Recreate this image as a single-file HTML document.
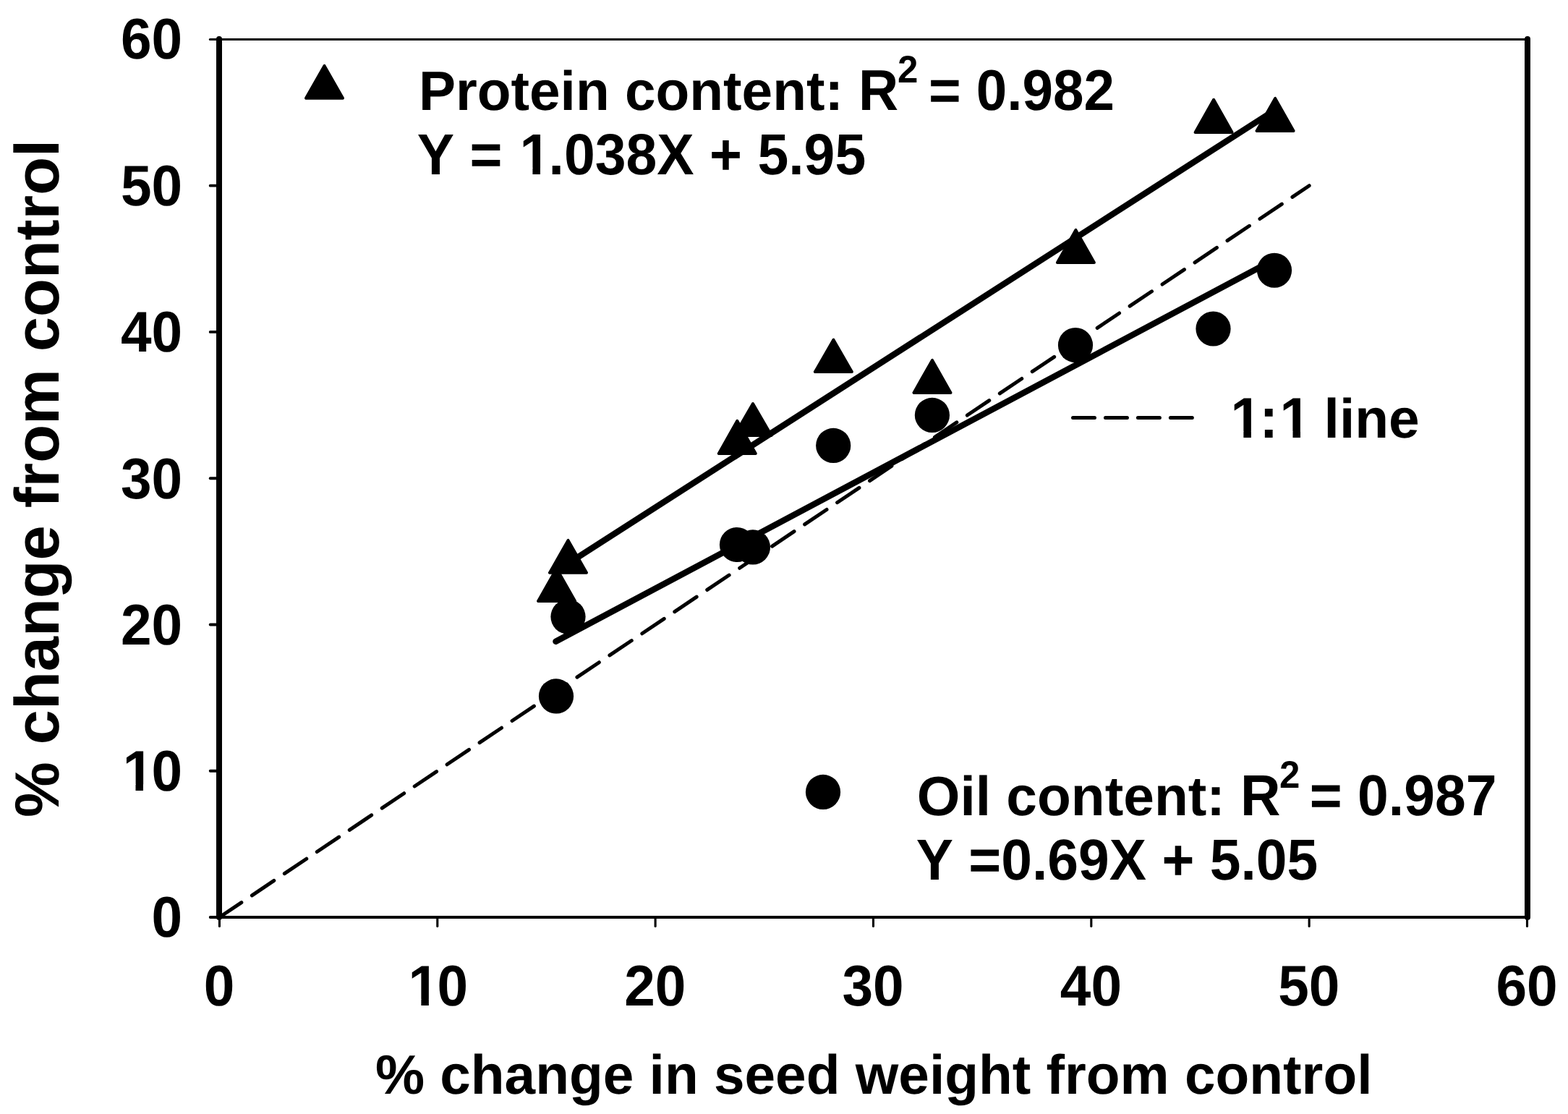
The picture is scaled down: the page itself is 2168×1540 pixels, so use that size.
<!DOCTYPE html>
<html lang="en"><head><meta charset="utf-8"><title>% change in seed weight from control</title>
<style>
html,body{margin:0;padding:0;background:#fff;}
body{width:2168px;height:1540px;overflow:hidden;}
svg{display:block;}
text{font-family:"Liberation Sans",sans-serif;font-weight:bold;fill:#000;font-kerning:none;text-rendering:geometricPrecision;}
</style></head><body>
<svg xmlns="http://www.w3.org/2000/svg" width="2168" height="1540" viewBox="0 0 2168 1540">
<defs><clipPath id="c1"><rect x="146.94" y="997.77" width="125.20" height="86.38"/><rect x="146.94" y="1083.15" width="26.02" height="30.64"/><rect x="187.51" y="1083.15" width="10.51" height="9.85"/><rect x="211.60" y="1083.15" width="60.54" height="30.64"/></clipPath><clipPath id="c2"><rect x="541.79" y="1294.77" width="125.20" height="86.38"/><rect x="541.79" y="1380.15" width="26.02" height="30.64"/><rect x="582.36" y="1380.15" width="10.51" height="9.85"/><rect x="606.45" y="1380.15" width="60.54" height="30.64"/></clipPath><clipPath id="c3"><rect x="556.68" y="144.94" width="660.56" height="87.14"/><rect x="556.68" y="231.08" width="165.12" height="30.79"/><rect x="736.42" y="231.08" width="10.56" height="9.92"/><rect x="760.62" y="231.08" width="456.62" height="30.79"/></clipPath><clipPath id="c4"><rect x="1678.81" y="509.77" width="150.71" height="86.38"/><rect x="1678.81" y="595.15" width="26.02" height="30.64"/><rect x="1719.38" y="595.15" width="10.51" height="9.85"/><rect x="1743.47" y="595.15" width="29.47" height="30.64"/><rect x="1787.49" y="595.15" width="10.51" height="9.85"/><rect x="1811.58" y="595.15" width="17.94" height="30.64"/></clipPath></defs>
<rect x="0" y="0" width="2168" height="1540" fill="#fff"/>
<line x1="303.45" y1="1268.00" x2="1810.16" y2="256.71" stroke="#000" stroke-width="5" stroke-linecap="round" stroke-dasharray="36.6 17.54"/>
<line x1="768.5" y1="886.72" x2="1762" y2="358.78" stroke="#000" stroke-width="8.5" stroke-linecap="round"/>
<line x1="770" y1="788.88" x2="1763" y2="151.97" stroke="#000" stroke-width="8.5" stroke-linecap="round"/>
<g stroke="#000" fill="none" stroke-linecap="round">
<line x1="303" y1="54" x2="303" y2="1268" stroke-width="8"/>
<line x1="2112" y1="54" x2="2112" y2="1268" stroke-width="8"/>
<line x1="303" y1="54.4" x2="2112" y2="54.4" stroke-width="3"/>
<line x1="303" y1="1268" x2="2112" y2="1268" stroke-width="4"/>
<line x1="290.70" y1="1268.00" x2="303" y2="1268.00" stroke-width="3.8"/>
<line x1="303.45" y1="1268" x2="303.45" y2="1280.45" stroke-width="3.1"/>
<line x1="290.70" y1="1065.74" x2="303" y2="1065.74" stroke-width="3.8"/>
<line x1="604.79" y1="1268" x2="604.79" y2="1280.45" stroke-width="3.1"/>
<line x1="290.70" y1="863.48" x2="303" y2="863.48" stroke-width="3.8"/>
<line x1="906.13" y1="1268" x2="906.13" y2="1280.45" stroke-width="3.1"/>
<line x1="290.70" y1="661.23" x2="303" y2="661.23" stroke-width="3.8"/>
<line x1="1207.47" y1="1268" x2="1207.47" y2="1280.45" stroke-width="3.1"/>
<line x1="290.70" y1="458.97" x2="303" y2="458.97" stroke-width="3.8"/>
<line x1="1508.82" y1="1268" x2="1508.82" y2="1280.45" stroke-width="3.1"/>
<line x1="290.70" y1="256.71" x2="303" y2="256.71" stroke-width="3.8"/>
<line x1="1810.16" y1="1268" x2="1810.16" y2="1280.45" stroke-width="3.1"/>
<line x1="290.30" y1="54.45" x2="303" y2="54.45" stroke-width="3.0"/>
<line x1="2111.50" y1="1268" x2="2111.50" y2="1280.45" stroke-width="3.1"/>
</g>
<g fill="#000">
<circle cx="769.00" cy="962.40" r="24.10"/>
<circle cx="785.50" cy="852.60" r="24.10"/>
<circle cx="1019.00" cy="753.00" r="24.10"/>
<circle cx="1040.90" cy="756.40" r="24.10"/>
<circle cx="1152.20" cy="615.90" r="24.10"/>
<circle cx="1288.90" cy="573.90" r="24.10"/>
<circle cx="1487.00" cy="477.10" r="24.10"/>
<circle cx="1677.50" cy="454.50" r="24.10"/>
<circle cx="1762.00" cy="373.75" r="24.10"/>
<circle cx="1138.0" cy="1094.9" r="24.10"/>
</g>
<g fill="#000" stroke="#000" stroke-width="4.0" stroke-linejoin="round">
<polygon points="769.60,786.00 744.10,830.90 795.10,830.90"/>
<polygon points="785.50,746.90 760.00,791.80 811.00,791.80"/>
<polygon points="1019.30,581.80 993.80,627.00 1044.80,627.00"/>
<polygon points="1041.00,558.00 1015.50,602.00 1066.50,602.00"/>
<polygon points="1152.40,469.70 1126.90,514.10 1177.90,514.10"/>
<polygon points="1289.00,497.90 1263.50,542.90 1314.50,542.90"/>
<polygon points="1487.40,317.90 1461.90,363.00 1512.90,363.00"/>
<polygon points="1678.10,137.80 1652.60,182.90 1703.60,182.90"/>
<polygon points="1763.10,135.95 1737.60,181.00 1788.60,181.00"/>
<polygon points="448.50,90.90 423.00,135.70 474.00,135.70"/>
</g>
<line x1="1483.5" y1="577.5" x2="1648.6" y2="577.5" stroke="#000" stroke-width="5" stroke-linecap="round" stroke-dasharray="30 14.95"/>
<text transform="translate(209.54,1295.00) scale(1,1.0360)" font-size="76.60" xml:space="preserve">0</text>
<text transform="translate(281.75,1390.00) scale(1,1.0360)" font-size="76.60" xml:space="preserve">0</text>
<g clip-path="url(#c1)"><text transform="translate(166.94,1093.00) scale(1,1.0360)" font-size="76.60" dx="2.69 -2.69" xml:space="preserve">10</text></g>
<g clip-path="url(#c2)"><text transform="translate(561.79,1390.00) scale(1,1.0360)" font-size="76.60" dx="2.69 -2.69" xml:space="preserve">10</text></g>
<text transform="translate(166.94,891.00) scale(1,1.0360)" font-size="76.60" xml:space="preserve">20</text>
<text transform="translate(863.13,1390.00) scale(1,1.0360)" font-size="76.60" xml:space="preserve">20</text>
<text transform="translate(166.94,689.00) scale(1,1.0360)" font-size="76.60" xml:space="preserve">30</text>
<text transform="translate(1164.47,1390.00) scale(1,1.0360)" font-size="76.60" xml:space="preserve">30</text>
<text transform="translate(166.94,486.00) scale(1,1.0360)" font-size="76.60" xml:space="preserve">40</text>
<text transform="translate(1465.82,1390.00) scale(1,1.0360)" font-size="76.60" xml:space="preserve">40</text>
<text transform="translate(166.94,284.00) scale(1,1.0360)" font-size="76.60" xml:space="preserve">50</text>
<text transform="translate(1767.16,1390.00) scale(1,1.0360)" font-size="76.60" xml:space="preserve">50</text>
<text transform="translate(166.94,81.00) scale(1,1.0360)" font-size="76.60" xml:space="preserve">60</text>
<text transform="translate(2068.50,1390.00) scale(1,1.0360)" font-size="76.60" xml:space="preserve">60</text>
<text x="518.89" y="1512" font-size="76.59">% change in seed weight from control</text>
<text transform="translate(81,1130.10) rotate(-90)" font-size="86.50">% change from control</text>
<text x="578.88" y="152.00" font-size="76.58">Protein content:</text>
<text transform="translate(1187.07,152.00) scale(1,1.0400)" font-size="76.45" dx="0 -1.15 -6.81" dy="0 -36.63 36.63" xml:space="preserve">R<tspan font-size="51">2</tspan> = 0.982</text>
<text x="1267.75" y="1127.00" font-size="76.71">Oil content:</text>
<text transform="translate(1714.95,1127.00) scale(1,1.0400)" font-size="76.89" dx="0 -1.45 -7.95" dy="0 -36.63 36.63" xml:space="preserve">R<tspan font-size="51">2</tspan> = 0.987</text>
<g clip-path="url(#c3)"><text transform="translate(576.68,241.00) scale(1,1.0400)" font-size="76.97" dx="0 0 0 0 2.71 -2.71" xml:space="preserve">Y = 1.038X + 5.95</text></g>
<text transform="translate(1266.69,1216.00) scale(1,1.0400)" font-size="76.86" xml:space="preserve">Y =0.69X + 5.05</text>
<g clip-path="url(#c4)"><text transform="translate(1698.81,605.00) scale(1,1.0360)" font-size="76.60" dx="2.69 -2.69 2.69" xml:space="preserve">1:1</text></g>
<text x="1830.62" y="605" font-size="76.66">line</text>
</svg>
</body></html>
